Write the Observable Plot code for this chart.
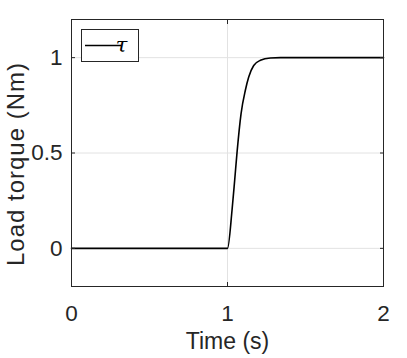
<!DOCTYPE html>
<html>
<head>
<meta charset="utf-8">
<script src="https://cdn.jsdelivr.net/npm/d3@7"></script>
<script src="https://cdn.jsdelivr.net/npm/@observablehq/plot@0.6"></script>
<style>
  html, body { margin: 0; padding: 0; background: #ffffff; }
  #chart { position: relative; width: 407px; height: 358px; overflow: hidden; }
</style>
</head>
<body>
<div id="chart"></div>
<script>
// Data
const timeS    = [0, 1.000, 1.029, 1.046, 1.061, 1.087, 1.1145, 1.136, 1.168, 1.211, 1.275, 1.340, 2];
const torqueNm = [0, 0.000, 0.200, 0.357, 0.502, 0.707, 0.829,  0.898, 0.959, 0.986, 0.998, 1.000, 1];
const seriesName = "τ";

const xTicks = [0, 1, 2];
const xTickLabels = ["0", "1", "2"];
const yTicks = [0, 0.5, 1];
const yTickLabels = ["0", "0.5", "1"];
const xLabel = "Time (s)";
const yLabel = "Load torque (Nm)";

const data = timeS.map((t, i) => ({t, v: torqueNm[i]}));
const ink = "#262626";

const plot = Plot.plot({
  width: 407,
  height: 358,
  marginLeft: 71,
  marginRight: 24,
  marginTop: 19,
  marginBottom: 72,
  style: {fontFamily: "'Liberation Sans', Arial, Helvetica, sans-serif", color: ink, background: "#ffffff"},
  x: {domain: [0, 2]},
  y: {domain: [-0.2, 1.2]},
  marks: [
    Plot.gridX(xTicks, {stroke: "#e2e2e2", strokeOpacity: 1}),
    Plot.gridY(yTicks, {stroke: "#e2e2e2", strokeOpacity: 1}),
    Plot.line(data, {x: "t", y: "v", stroke: "#000000", strokeWidth: 1.6, curve: "monotone-x"}),
    Plot.frame({stroke: ink, strokeWidth: 1}),
    // inward ticks on all four sides
    Plot.axisX({ticks: xTicks, anchor: "bottom", tickSize: -4, tickFormat: () => "", label: null, stroke: ink}),
    Plot.axisX({ticks: xTicks, anchor: "top", tickSize: -4, tickFormat: () => "", label: null, stroke: ink}),
    Plot.axisY({ticks: yTicks, anchor: "left", tickSize: -4, tickFormat: () => "", label: null, stroke: ink}),
    Plot.axisY({ticks: yTicks, anchor: "right", tickSize: -4, tickFormat: () => "", label: null, stroke: ink}),
    // tick labels
    Plot.axisX({ticks: xTicks, anchor: "bottom", tickSize: 0, tickPadding: 19, fontSize: 22.5,
      tickFormat: (d) => xTickLabels[xTicks.indexOf(d)], label: null, fill: ink}),
    Plot.axisY({ticks: yTicks, anchor: "left", tickSize: 0, tickPadding: 9, fontSize: 22.5,
      tickFormat: (d) => yTickLabels[yTicks.indexOf(d)], label: null, fill: ink}),
    // axis titles
    Plot.text([xLabel], {frameAnchor: "bottom", lineAnchor: "top", dy: 46, fontSize: 23, fill: ink}),
    Plot.text([yLabel], {frameAnchor: "left", textAnchor: "middle", rotate: -90, dx: -55, dy: 11,
      fontSize: 24, fill: ink, lineAnchor: "middle"})
  ]
});

document.getElementById("chart").appendChild(plot);

const svg = d3.select(plot);
// MATLAB spreads the rotated y label a little more than the browser does
svg.selectAll("text").filter(function () { return this.textContent === yLabel; })
  .style("letter-spacing", "1px");

// legend box (MATLAB style, inside the axes at upper-left)
const lg = svg.append("g").attr("class", "legend");
lg.append("rect").attr("x", 81.5).attr("y", 29.5).attr("width", 57).attr("height", 32)
  .attr("fill", "#ffffff").attr("stroke", ink).attr("stroke-width", 1);
lg.append("line").attr("x1", 85).attr("x2", 121).attr("y1", 45.5).attr("y2", 45.5)
  .attr("stroke", "#000000").attr("stroke-width", 1.5);
lg.append("text").attr("x", 121.5).attr("y", 45.5).attr("dy", "0.32em")
  .attr("font-family", "'DejaVu Serif', 'Liberation Serif', serif").attr("font-style", "italic")
  .attr("font-size", 21).attr("fill", "#000000").text(seriesName);
</script>
</body>
</html>
